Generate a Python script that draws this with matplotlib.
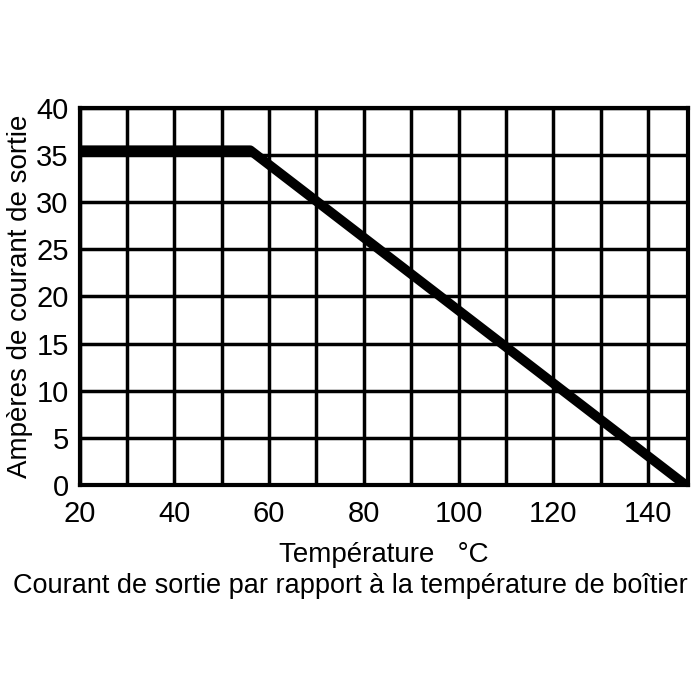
import matplotlib.pyplot as plt

plt.rcParams['font.family'] = ['Liberation Sans', 'DejaVu Sans']

temp = [20, 56, 148]
amps = [35.5, 35.5, 0]
xticks = [20, 40, 60, 80, 100, 120, 140]
yticks = [0, 5, 10, 15, 20, 25, 30, 35, 40]

fig = plt.figure(figsize=(7, 7), dpi=100)
ax = fig.add_axes([0.114, 0.307, 0.869, 0.539])

ax.plot(temp, amps, color='black', linewidth=7, solid_capstyle='butt')
ax.set_xlim(20, 148.5)
ax.set_ylim(0, 40)
ax.set_xticks(range(20, 150, 10), minor=True)
ax.set_xticks(xticks)
ax.set_yticks(yticks)
ax.grid(True, which='both', color='black', linewidth=2.5)
for s in ax.spines.values():
    s.set_linewidth(3)
ax.tick_params(length=0, labelsize=21)
ax.tick_params(axis='x', pad=11)
ax.tick_params(axis='y', pad=8)
ax.tick_params(which='minor', length=0)

ax.set_ylabel('Ampères de courant de sortie', fontsize=20, labelpad=2)
ax.set_xlabel('Température   °C', fontsize=20, labelpad=10)
fig.text(0.5, 0.163, 'Courant de sortie par rapport à la température de boîtier',
         ha='center', va='center', fontsize=19.5)

fig.savefig('out.png')
